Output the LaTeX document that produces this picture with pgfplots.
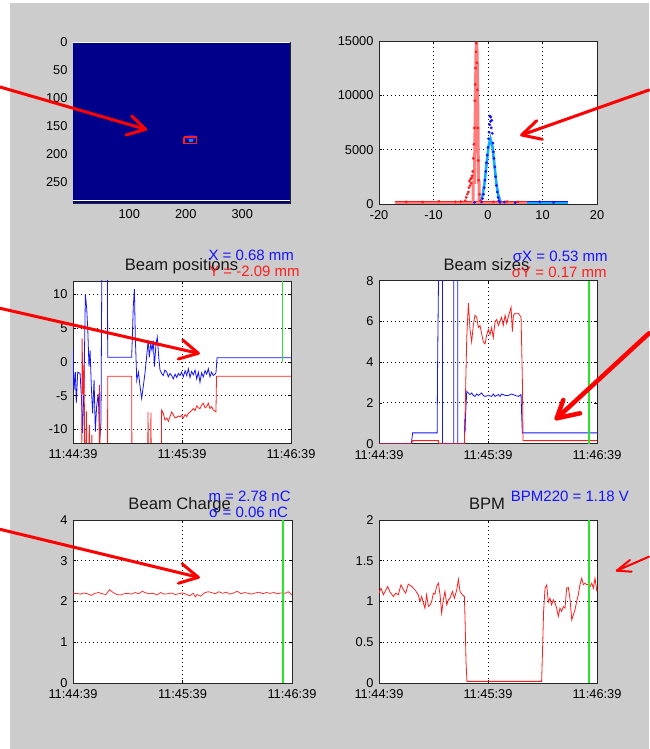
\documentclass[border=0pt]{standalone}
\usepackage{fontspec}
\setmainfont{Liberation Sans}
\usepackage{pgfplots}
\pgfplotsset{compat=1.18}
\definecolor{bggray}{RGB}{204,204,204}
\definecolor{navy}{RGB}{0,0,138}
\definecolor{mred}{RGB}{255,30,30}
\definecolor{mblue}{RGB}{20,20,255}
\definecolor{mgreen}{RGB}{40,230,40}
\definecolor{pinkfit}{RGB}{255,125,125}
\definecolor{cyanfit}{RGB}{20,170,255}
\newcommand\tfont{\fontsize{16.6}{18}\selectfont}
\newcommand\afont{\fontsize{15}{17}\selectfont}
\pgfplotsset{
 mat/.style={
   scale only axis, width=218pt, height=162pt, anchor=north west,
   axis background/.style={fill=white},
   tick align=inside, major tick length=3pt,
   tick style={black, line width=0.6pt},
   axis line style={black!85, line width=0.9pt},
   tick label style={font=\fontsize{12.8}{14}\selectfont, text=black},
   /pgf/number format/assume math mode=true,
   /pgf/number format/1000 sep={},
   scaled ticks=false,
   xticklabel style={yshift=-3pt},
   yticklabel style={xshift=-2pt},
   major grid style={black, line width=0.9pt, dash pattern=on 0.9pt off 3.1pt},
 },
 timeax/.style={xmin=0, xmax=120, xtick={0,60,120},
   xticklabels={11:44:39,11:45:39,11:46:39}, grid=major},
}
\begin{document}
\begin{tikzpicture}[x=1pt,y=1pt]
\useasboundingbox (0pt,0pt) rectangle (649pt,749pt);
\fill[white] (0pt,0pt) rectangle (649pt,749pt);
\fill[bggray] (10pt,0pt) rectangle (649pt,745.7pt);

% ---------- A: camera image ----------
\begin{axis}[mat, at={(73pt,707pt)}, width=217pt, height=161pt,
  xmin=0.5, xmax=384.5, ymin=0, ymax=288, y dir=reverse,
  xtick={100,200,300}, ytick={0,50,100,150,200,250},
  axis background/.style={fill=navy}]
\addplot[draw=none, fill=navy] coordinates {(0.5,0) (384.5,0) (384.5,288) (0.5,288)} -- cycle;
\addplot[white, line width=0.8pt] coordinates {(0.5,1.6) (384.5,1.6)};
\addplot[white, line width=0.8pt] coordinates {(0.5,284) (384.5,284)};
\addplot[draw=none, fill=mblue] coordinates {(202,167) (216,167) (216,176) (202,176)} -- cycle;
\addplot[only marks, mark=square*, mark size=1.3pt, color=cyan!70!blue] coordinates {(209,176)};
\addplot[mred, line width=1.2pt] coordinates {(197,170) (219,170) (219,181) (197,181) (197,170)};
\end{axis}

% ---------- B: profiles ----------
\begin{axis}[mat, at={(379pt,708pt)}, height=163pt,
  xmin=-20, xmax=20, ymin=0, ymax=15000,
  xtick={-20,-10,0,10,20}, ytick={0,5000,10000,15000}, grid=major]
\addplot[mblue, line width=5pt] coordinates {(-3.6,40) (14.7,40)};
\addplot[cyanfit, line width=2.5pt] coordinates {(-3.6,40) (14.7,40)};
\addplot[cyanfit, line width=2.6pt] coordinates {(-1.7,60) (-1.35,260) (-0.99,810) (-0.63,1950) (-0.27,3640) (0.09,5300) (0.45,6000) (0.81,5300) (1.17,3640) (1.53,1950) (1.89,810) (2.25,260) (2.61,60)};
\addplot[only marks, mark=*, mark size=1.2pt, color=mblue] coordinates {
(-1.2,200) (-1.0,500) (-0.8,900) (-0.7,1500) (-0.55,2200) (-0.4,3000) (-0.3,3800) (-0.15,4500) (0,5200) (0.1,6000) (0.2,6600) (0.3,7300) (0.35,8100) (0.45,7600) (0.5,8000) (0.6,7000) (0.7,7700) (0.8,6500) (0.9,5600) (1.0,4800) (1.1,4200) (1.25,3400) (1.4,2500) (1.55,1700) (1.7,1100) (1.85,600) (2.0,300) (2.2,150) (-2.5,150) (3,180) (5,120) (9.5,200) (12,150)};
\addplot[mred, line width=5pt] coordinates {(-17.1,40) (7.1,40)};
\addplot[pinkfit, line width=2.5pt] coordinates {(-17.1,40) (7.1,40)};
\addplot[pinkfit, line width=3pt] coordinates {(-2.75,40) (-2.75,2000) (-2.5,2000) (-2.35,8000) (-2.2,14000) (-2.1,14900) (-2.0,14000) (-1.85,8000) (-1.75,2000) (-1.65,2000) (-1.65,40)};
\addplot[only marks, mark=*, mark size=1.2pt, color=mred] coordinates {
(-4.2,300) (-4.0,600) (-3.8,900) (-3.6,1100) (-3.5,1500) (-3.4,2100) (-3.3,1700) (-3.2,2300) (-3.1,1900) (-3.0,2400) (-2.9,2600) (-2.8,3000) (-2.7,4200) (-2.6,5500) (-2.5,7000) (-2.4,9500) (-2.35,11000) (-2.3,12500) (-2.2,14000) (-2.15,14800) (-2.05,13000) (-1.95,10500) (-1.9,7000) (-1.8,4000) (-1.7,2200) (-1.55,900) (-1.4,300) (-15,200) (-12,180) (-9,250) (-6,200) (-5,220) (1,200) (3.5,220) (5.5,200)};
\end{axis}

% ---------- C: positions ----------
\begin{axis}[mat, timeax, at={(73pt,468pt)}, ymin=-12, ymax=12, ytick={-10,-5,0,5,10}]
\addplot[mblue, line width=0.8pt] coordinates {
(0,2.2) (0.55,-4.2) (1.3,-1.5) (1.8,-6.1) (2.6,-1.5) (3.9,-1.7) (4.6,-5.1) (5.3,-10.5) (6.1,-2.7) (6.8,10.0) (7.5,8.1) (8.1,5.1) (8.8,-0.7) (9.4,1.7) (10.1,-3.7) (10.8,-7.6) (11.6,-2.7) (12.3,-10.3) (13.0,-6.6) (13.9,-4.7) (14.7,-11.5) (15.4,-9) (16.0,20) (18.9,20) (19.1,0.7) (32.3,0.7) (33.2,8.3) (33.8,10.8) (34.3,3.7) (35.1,-2.7) (36.0,-1.5) (36.9,-3.6) (37.8,-5.4) (38.7,-3.6) (39.6,-1.7) (40.5,0.7) (41.4,3.2) (42.0,0.7) (42.8,2.7) (43.5,1.7) (44.2,3.2) (44.8,-0.7) (45.7,2.7) (46.4,3.7) (47.2,0.7) (47.9,-1.2) (48.8,-1.7) (49.7,-2.0) (50.6,-1.2) (51.6,-1.5) (52.5,-2.2) (53.4,-1.7) (54.3,-2.0) (55.2,-2.5) (56.2,-1.8) (57.1,-2.3) (58.0,-1.7) (58.9,-2.0) (59.8,-1.5) (60.7,-2.2) (61.7,-1.3) (62.6,-2.0) (63.5,-1.0) (64.4,-2.3) (65.3,-1.4) (66.2,-1.9) (67.2,-1.2) (68.1,-2.5) (69.0,-1.5) (69.9,-3.0) (70.8,-1.6) (71.7,-2.2) (72.7,-1.3) (73.6,-1.8) (74.5,-1.0) (75.4,-2.2) (76.3,-1.5) (77.2,-2.0) (78.2,-1.8) (78.7,-1.6) (79.3,0.64) (120,0.64)};
\addplot[mred, line width=0.8pt] coordinates {
(0,-20) (4.8,-20) (5.0,3.5) (5.6,-4.8) (6.1,-0.4) (6.6,-20) (7.4,-7.3) (8.0,-20) (9.0,-9.3) (9.6,-20) (10.4,-10.8) (11.0,-20) (14.3,-20) (14.6,-3.4) (15.1,-20) (19.0,-20) (19.1,-2.1) (32.3,-2.1) (32.5,-20) (41.0,-20) (41.3,-7.4) (41.6,-20) (42.6,-20) (42.9,-7.5) (43.2,-20) (48.4,-20) (48.8,-7.1) (49.7,-7.6) (50.6,-8.6) (51.6,-8.3) (52.5,-8.8) (53.4,-8.1) (54.3,-7.4) (55.2,-7.8) (56.2,-8.3) (57.1,-8.2) (58.0,-8.0) (58.9,-8.1) (59.8,-7.9) (60.7,-8.3) (61.7,-7.8) (62.6,-8.1) (63.5,-7.6) (64.4,-7.4) (65.3,-7.2) (66.2,-6.9) (67.2,-7.2) (68.1,-6.5) (69.0,-6.8) (69.9,-6.9) (70.8,-6.4) (71.7,-6.1) (72.7,-6.8) (73.6,-6.6) (74.5,-6.1) (75.4,-6.9) (76.3,-6.6) (77.2,-7.1) (78.7,-7.4) (79.0,-2.1) (120,-2.1)};
\addplot[mgreen, line width=1.4pt] coordinates {(115.4,0) (115.4,12)};
\end{axis}

% ---------- D: sizes ----------
\begin{axis}[mat, timeax, at={(379pt,468.3pt)}, height=163pt, ymin=0, ymax=8, ytick={0,2,4,6,8}]
\addplot[mblue, line width=0.8pt] coordinates {
(0,0) (17.8,0) (18.5,0.53) (32.0,0.53) (32.3,4.3) (33.0,10) (34.9,10) (34.9,0) (41.1,0) (41.1,10) (43.3,10) (43.3,0) (47.0,0) (47.2,1.2) (47.4,0.6) (47.6,1.3) (48.3,2.57) (49.2,2.49) (50.1,2.41) (51.0,2.49) (51.9,2.37) (52.8,2.32) (53.8,2.44) (54.7,2.37) (56.5,2.49) (57.4,2.37) (58.4,2.32) (60.2,2.37) (62.0,2.32) (62.9,2.44) (63.9,2.32) (65.7,2.41) (66.6,2.32) (67.5,2.44) (69.4,2.37) (71.2,2.37) (73.0,2.44) (74.9,2.37) (76.7,2.32) (78.2,2.41) (78.5,1.5) (78.9,0.53) (120,0.53)};
\addplot[mred, line width=0.8pt] coordinates {
(0,0) (18.0,0) (18.4,0.15) (32.7,0.15) (32.9,0) (47.0,0) (47.3,1.1) (48.3,5.2) (49.2,6.9) (50.1,5.6) (51.0,5.0) (51.9,5.8) (52.8,6.3) (53.8,6.2) (54.7,5.7) (55.6,5.8) (56.5,5.4) (57.4,5.0) (58.4,4.9) (59.3,5.35) (60.2,5.6) (61.1,5.35) (62.0,5.7) (62.9,5.2) (63.9,6.0) (64.8,6.1) (65.7,5.8) (66.6,6.0) (67.5,6.2) (68.4,5.8) (69.4,6.3) (70.3,5.9) (71.2,6.25) (72.1,6.5) (72.7,6.7) (73.4,5.5) (74.0,6.3) (74.9,6.4) (76.7,6.4) (78.2,6.2) (78.9,3.2) (79.3,0.15) (120,0.15)};
\addplot[mgreen, line width=1.4pt] coordinates {(115.6,0) (115.6,8)};
\end{axis}

% ---------- E: charge ----------
\begin{axis}[mat, timeax, at={(73pt,229pt)}, width=219pt, height=163pt, ymin=0, ymax=4, ytick={0,1,2,3,4}]
\addplot[mred, line width=0.7pt] coordinates {
(0,2.19) (2,2.20) (4,2.18) (6,2.21) (8,2.19) (10,2.15) (12,2.20) (14,2.22) (16,2.19) (18,2.17) (20,2.29) (22,2.22) (24,2.17) (26,2.16) (28,2.19) (30,2.20) (32,2.18) (34,2.22) (36,2.19) (38,2.25) (40,2.21) (42,2.19) (44,2.20) (46,2.16) (48,2.22) (50,2.18) (52,2.19) (54,2.21) (56,2.17) (58,2.19) (60,2.21) (62,2.18) (64,2.14) (66,2.20) (67,2.11) (68,2.17) (70,2.13) (72,2.21) (74,2.24) (76,2.22) (78,2.19) (80,2.24) (82,2.20) (84,2.23) (86,2.18) (88,2.21) (90,2.25) (92,2.19) (94,2.22) (96,2.20) (98,2.18) (100,2.21) (102,2.23) (104,2.19) (106,2.22) (108,2.20) (110,2.22) (112,2.19) (114,2.21) (116,2.20) (118,2.24) (120,2.16)};
\addplot[mgreen, line width=1.4pt] coordinates {(115.0,0) (115.0,4)};
\end{axis}

% ---------- F: BPM ----------
\begin{axis}[mat, timeax, at={(379pt,229pt)}, height=163pt, ymin=0, ymax=2, ytick={0,0.5,1,1.5,2}]
\addplot[mred, line width=0.8pt] coordinates {
(0,1.102) (1.1,1.164) (2.4,1.082) (4.8,1.184) (6.1,1.114) (7.9,1.061) (9.2,1.102) (10.6,1.082) (12.1,1.205) (13.4,1.143) (14.7,1.102) (16.1,1.213) (18.0,1.184) (19.8,1.143) (21.6,1.082) (22.6,1.000) (23.5,1.061) (24.4,0.980) (25.3,0.918) (26.2,1.082) (27.2,0.939) (28.1,0.959) (29.0,1.000) (29.9,1.102) (30.8,1.090) (31.7,1.184) (32.7,1.225) (33.6,1.082) (34.5,0.857) (35.4,1.021) (36.3,1.123) (37.3,0.959) (38.2,1.021) (39.1,1.041) (40.4,1.123) (41.5,1.041) (42.8,1.143) (43.7,1.274) (44.6,1.123) (45.9,1.082) (47.0,1.061) (47.3,0.837) (47.9,0.265) (48.4,0.02) (89.5,0.02) (89.9,0.306) (90.6,0.878) (91.4,1.164) (92.3,1.205) (93.2,0.992) (94.1,1.041) (95.0,0.959) (96.0,1.021) (96.9,0.980) (97.8,0.918) (98.7,0.816) (99.6,0.918) (100.5,0.878) (101.5,0.939) (102.4,0.918) (103.3,1.164) (104.2,1.172) (105.1,1.041) (106.1,0.775) (107.0,0.837) (107.9,0.898) (108.8,1.000) (109.7,1.082) (110.6,1.205) (111.6,1.286) (112.5,1.205) (113.4,1.225) (114.3,1.205) (115.2,1.213) (116.2,1.184) (117.1,1.225) (118.0,1.164) (118.9,1.286) (119.8,1.143) (120,1.123)};
\addplot[mgreen, line width=1.4pt] coordinates {(115.6,0) (115.6,2)};
\end{axis}

% ---------- titles and annotations ----------
\node[anchor=base, text=black!90, font=\tfont] at (181.5pt,478.3pt) {Beam positions};
\node[anchor=base west, inner sep=0, text=mblue, font=\afont] at (208.3pt,488.3pt) {X = 0.68 mm};
\node[anchor=base west, inner sep=0, text=mred, font=\afont] at (209pt,472.3pt) {Y = -2.09 mm};
\node[anchor=base, text=black!90, font=\tfont] at (486.5pt,478.3pt) {Beam sizes};
\node[anchor=base west, inner sep=0, text=mblue, font=\afont] at (512.7pt,487.3pt) {σX = 0.53 mm};
\node[anchor=base west, inner sep=0, text=mred, font=\afont] at (511.7pt,471.7pt) {σY = 0.17 mm};
\node[anchor=base, text=black!90, font=\tfont] at (179.7pt,239.7pt) {Beam Charge};
\node[anchor=base west, inner sep=0, text=mblue, font=\afont] at (208.3pt,247.3pt) {m = 2.78 nC};
\node[anchor=base west, inner sep=0, text=mblue, font=\afont] at (209pt,231.7pt) {σ = 0.06 nC};
\node[anchor=base, text=black!90, font=\tfont] at (487pt,239.7pt) {BPM};
\node[anchor=base west, inner sep=0, text=mblue, font=\afont] at (510.7pt,247.3pt) {BPM220 = 1.18 V};

% ---------- hand-drawn arrows ----------
\begin{scope}[red, line width=3pt, line cap=round, line join=round]
\draw (0pt,662pt) -- (145.7pt,619.7pt);
\draw (131.7pt,633pt) -- (145.7pt,619.7pt) -- (126pt,614pt);
\draw (649pt,659pt) -- (521.7pt,614pt);
\draw (536.7pt,628.3pt) -- (521.7pt,614pt) -- (542.3pt,609.7pt);
\draw (0pt,440.7pt) -- (198.3pt,395.7pt);
\draw (182.7pt,409pt) -- (198.3pt,395.7pt) -- (178.3pt,390pt);
\draw (0pt,219.7pt) -- (198.3pt,171.7pt);
\draw (182.3pt,185pt) -- (198.3pt,171.7pt) -- (178.3pt,165.7pt);
\end{scope}
\begin{scope}[red, line width=4.5pt, line cap=round, line join=round]
\draw (649pt,415.7pt) -- (556.7pt,330.7pt);
\draw (563.3pt,349pt) -- (556.7pt,330.7pt) -- (580pt,335.7pt);
\end{scope}
\begin{scope}[red, line width=2pt, line cap=round, line join=round]
\draw (649pt,192.3pt) -- (616.7pt,178.3pt);
\draw (630pt,189pt) -- (616.7pt,178.3pt) -- (631.7pt,177.3pt);
\end{scope}
\end{tikzpicture}
\end{document}
